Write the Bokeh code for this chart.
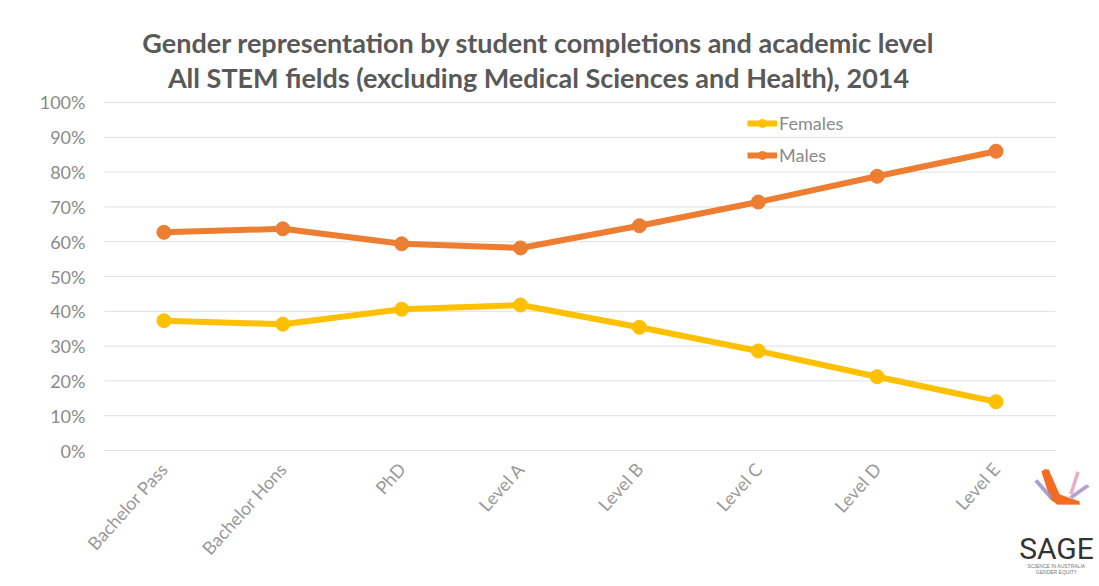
from bokeh.plotting import figure
from bokeh.models import Range1d, FixedTicker, Label, PolyAnnotation
from bokeh.embed import file_html
from bokeh.resources import INLINE
import math

# ---- data ----
categories = ["Bachelor Pass", "Bachelor Hons", "PhD", "Level A",
              "Level B", "Level C", "Level D", "Level E"]
females = [37.3, 36.3, 40.6, 41.8, 35.4, 28.6, 21.2, 14.0]
males = [62.7, 63.7, 59.4, 58.2, 64.6, 71.4, 78.8, 86.0]
y_ticks = [0, 10, 20, 30, 40, 50, 60, 70, 80, 90, 100]
y_tick_labels = [f"{t}%" for t in y_ticks]
title_lines = ["Gender representation by student completions and academic level",
               "All STEM fields (excluding Medical Sciences and Health), 2014"]
logo_lines = ["SAGE", "SCIENCE IN AUSTRALIA", "GENDER EQUITY"]

x_idx = list(range(len(categories)))

FEMALE_C = "#FFC000"
MALE_C = "#ED7D31"
FONT = "Lato"

W, H = 1099, 586
p = figure(width=W, height=H,
           x_range=Range1d(-1.3746, 7.8704),
           y_range=Range1d(-39.08, 129.31),
           output_backend="svg", toolbar_location=None,
           min_border=0, min_border_left=0, min_border_right=0,
           min_border_top=0, min_border_bottom=0)
p.background_fill_color = "white"
p.border_fill_color = "white"
p.outline_line_color = None

# axes (placed inside the frame)
p.yaxis.ticker = FixedTicker(ticks=y_ticks)
p.yaxis.major_label_overrides = {t: l for t, l in zip(y_ticks, y_tick_labels)}
p.yaxis.fixed_location = -0.5
p.xaxis.ticker = FixedTicker(ticks=x_idx)
p.xaxis.major_label_overrides = {i: c for i, c in zip(x_idx, categories)}
p.xaxis.fixed_location = 0
for ax in (p.xaxis[0], p.yaxis[0]):
    ax.axis_line_color = None
    ax.major_tick_line_color = None
    ax.minor_tick_line_color = None
    ax.major_tick_out = 0
    ax.major_tick_in = 0
    ax.minor_tick_out = 0
    ax.major_label_text_font = FONT
    ax.major_label_text_font_size = "18px"
p.yaxis.major_label_text_color = "#8a8a8a"
p.yaxis.major_label_standoff = 19
p.xaxis.major_label_text_color = "#9a9a9a"
p.xaxis.major_label_orientation = math.radians(48)
p.xaxis.major_label_standoff = 15

p.xgrid.grid_line_color = None
p.ygrid.grid_line_color = None

# horizontal gridlines across the category bands
p.segment(x0=-0.5, x1=len(categories) - 0.5, y0=y_ticks, y1=y_ticks,
          line_color="#e0e0e0", line_width=1)

# series
p.line(x_idx, females, line_color=FEMALE_C, line_width=6, legend_label="Females")
p.scatter(x_idx, females, size=14, fill_color=FEMALE_C, line_color=FEMALE_C,
          legend_label="Females")
p.line(x_idx, males, line_color=MALE_C, line_width=6, legend_label="Males")
p.scatter(x_idx, males, size=14, fill_color=MALE_C, line_color=MALE_C,
          legend_label="Males")

# legend
lg = p.legend[0]
lg.location = (747, 420)
lg.border_line_color = None
lg.background_fill_alpha = 0
lg.padding = 0
lg.margin = 0
lg.spacing = 10
lg.glyph_width = 30
lg.glyph_height = 20
lg.label_height = 20
lg.label_standoff = 2
lg.label_text_font = FONT
lg.label_text_font_size = "18px"
lg.label_text_color = "#8a8a8a"

# title (two lines) -- screen units relative to the frame's bottom-left
title_y = [544, 509]
for t, ty in zip(title_lines, title_y):
    p.add_layout(Label(x=538, y=ty, x_units="screen", y_units="screen",
                       text=t, text_align="center", text_baseline="alphabetic",
                       text_font=FONT, text_font_style="bold",
                       text_font_size="27px", text_color="#595959"))

# SAGE logo (decoration)
logo_orange_x = [1044, 1048, 1059, 1079, 1079, 1057, 1050, 1041]
logo_orange_y = [117, 117, 92, 85, 82, 82, 87, 115]
p.add_layout(PolyAnnotation(xs=logo_orange_x, ys=logo_orange_y,
                            xs_units="screen", ys_units="screen",
                            fill_color="#F26B21", fill_alpha=1, line_color="#F26B21"))
logo_strokes = [
    ([1034, 1037, 1052, 1049], [105, 107, 90, 88], "#9B8FC9"),
    ([1086, 1089, 1072, 1069], [102, 100, 88, 90], "#A98FC9"),
    ([1076, 1079, 1072, 1069], [115, 114, 92, 93], "#E4A0B8"),
]
for xs, ys, c in logo_strokes:
    p.add_layout(PolyAnnotation(xs=xs, ys=ys, xs_units="screen", ys_units="screen",
                                fill_color=c, fill_alpha=0.85, line_color=c))
p.add_layout(Label(x=1056, y=38, x_units="screen", y_units="screen",
                   text=logo_lines[0], text_align="center", text_baseline="alphabetic",
                   text_font="Roboto", text_font_size="30px",
                   text_color="#333333"))
for i, t in enumerate(logo_lines[1:]):
    p.add_layout(Label(x=1056, y=21 - 6 * i, x_units="screen", y_units="screen",
                       text=t, text_align="center", text_baseline="alphabetic",
                       text_font="Liberation Sans", text_font_size="5px",
                       text_color="#777777"))

open("out.html", "w").write(file_html(p, INLINE))
